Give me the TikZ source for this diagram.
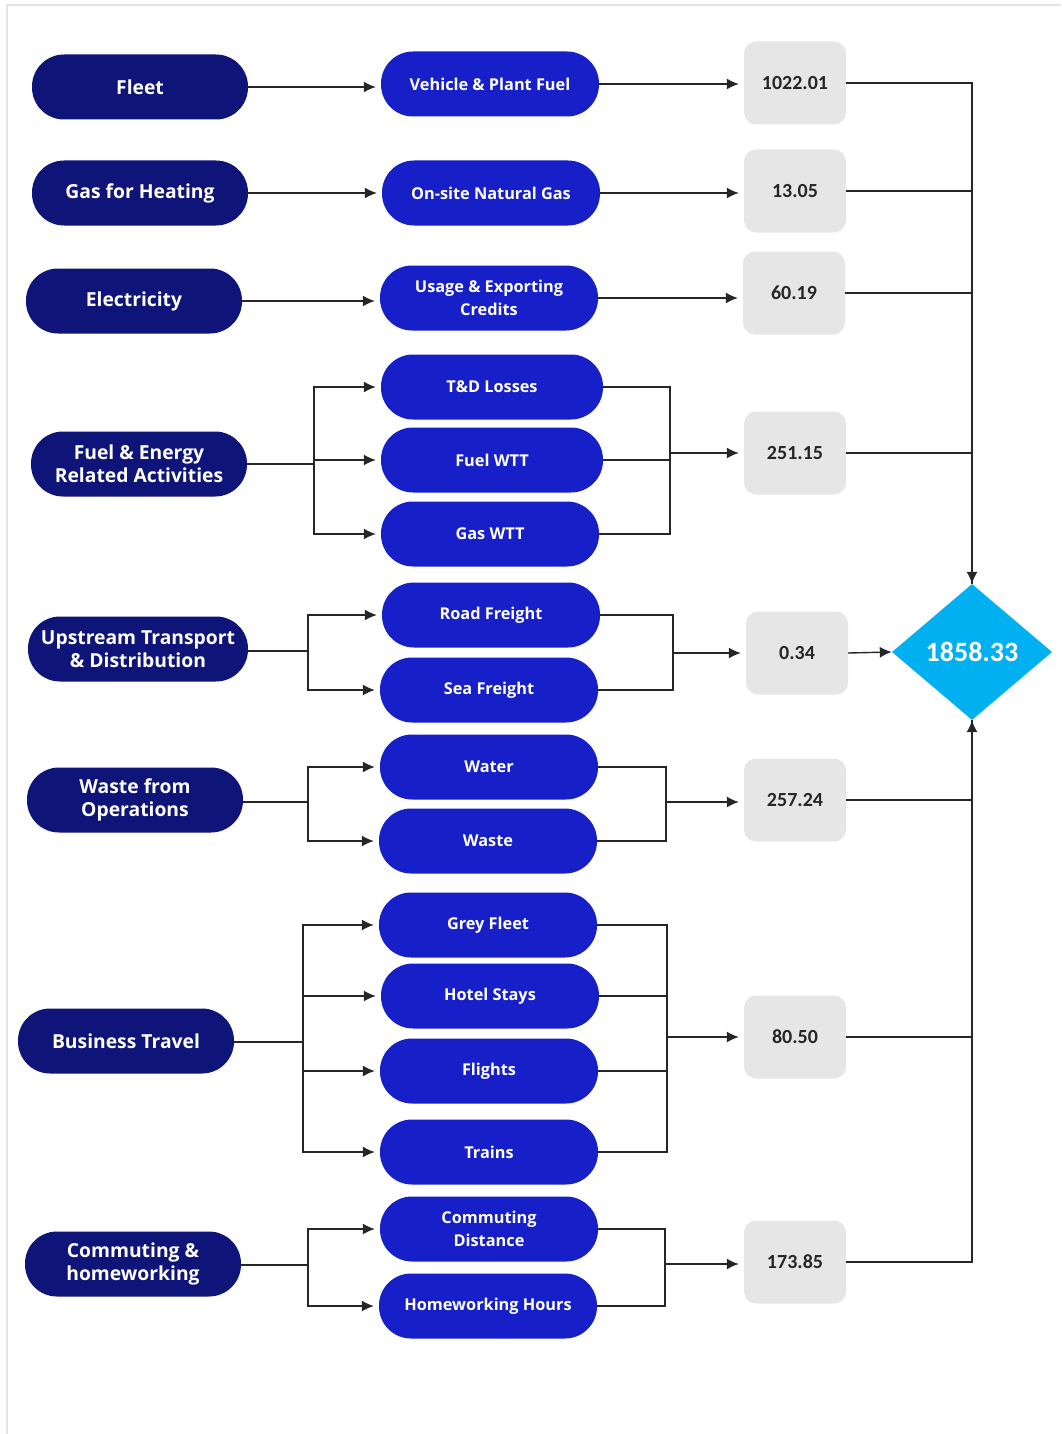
\documentclass[tikz,border=0pt]{standalone}
\usepackage{fontspec}
\setmainfont{Open Sans}
\newfontfamily\numfont{Carlito}
\usetikzlibrary{arrows.meta,shapes.geometric,positioning}
\definecolor{navy}{HTML}{0E1478}
\definecolor{midblue}{HTML}{1720C8}
\definecolor{valgray}{HTML}{E6E6E6}
\definecolor{skyblue}{HTML}{00B0F0}
\tikzset{
  cat/.style={fill=navy,text=white,rounded corners=32pt,minimum width=216pt,minimum height=65pt,inner sep=0pt,align=center,font=\bfseries\fontsize{19.3}{23}\selectfont},
  src/.style={fill=midblue,text=white,rounded corners=32pt,minimum width=218pt,minimum height=65pt,inner sep=0pt,align=center,font=\bfseries\fontsize{16.3}{23}\selectfont},
  val/.style={fill=valgray,rounded corners=12pt,minimum width=102pt,minimum height=83pt,inner sep=0pt,text=black!85,font=\numfont\bfseries\fontsize{20}{22}\selectfont},
  total/.style={diamond,fill=skyblue,text=white,minimum width=160pt,minimum height=136pt,aspect=1.18,inner sep=0pt,font=\numfont\bfseries\fontsize{28}{30}\selectfont},
  wire/.style={draw=black!85,line width=1.4pt},
  link/.style={wire,-{Latex[length=12pt,width=11pt]},shorten >=5pt},
  sum/.style={wire,-{Latex[length=12pt,width=11pt]}}
}
\begin{document}
\begin{tikzpicture}[x=1pt,y=-1pt]
  \useasboundingbox (0,0) rectangle (1061,1434);
  \draw [gray!22,line width=1.5pt] (7,1434) -- (7,5) -- (1061,5);

  % categories
  \node (fleet) [cat] at (140,87)   {Fleet};
  \node (heat)  [cat] at (140,193)  {Gas for Heating};
  \node (elec)  [cat] at (134,301)  {Electricity};
  \node (fera)  [cat] at (139,464)  {Fuel \& Energy\\Related Activities};
  \node (utd)   [cat,minimum width=220pt] at (138,649) {Upstream Transport\\\& Distribution};
  \node (wfo)   [cat] at (135,800)  {Waste from\\Operations};
  \node (bt)    [cat] at (126,1041) {Business Travel};
  \node (chw)   [cat] at (133,1264) {Commuting \&\\homeworking};

  % sources
  \node (vpf)   [src] at (490,84)   {Vehicle \& Plant Fuel};
  \node (ong)   [src] at (491,193)  {On-site Natural Gas};
  \node (uec)   [src] at (489,298)  {Usage \& Exporting\\Credits};
  \node (tdl)   [src,minimum width=222pt] at (492,387) {T\&D Losses};
  \node (fwtt)  [src,minimum width=222pt] at (492,460) {Fuel WTT};
  \node (gwtt)  [src] at (490,534)  {Gas WTT};
  \node (road)  [src] at (491,615)  {Road Freight};
  \node (sea)   [src] at (489,690)  {Sea Freight};
  \node (water) [src] at (489,767)  {Water};
  \node (waste) [src] at (488,841)  {Waste};
  \node (grey)  [src] at (488,925)  {Grey Fleet};
  \node (hotel) [src] at (490,996)  {Hotel Stays};
  \node (flight)[src] at (489,1071) {Flights};
  \node (train) [src] at (489,1152) {Trains};
  \node (cdist) [src] at (489,1229) {Commuting\\Distance};
  \node (hwh)   [src] at (488,1306) {Homeworking Hours};

  % values
  \node (v1) [val] at (795,83)   {1022.01};
  \node (v2) [val] at (795,191)  {13.05};
  \node (v3) [val] at (794,293)  {60.19};
  \node (v4) [val] at (795,453)  {251.15};
  \node (v5) [val] at (797,653)  {0.34};
  \node (v6) [val] at (795,800)  {257.24};
  \node (v7) [val] at (795,1037) {80.50};
  \node (v8) [val] at (795,1262) {173.85};

  \node (total) [total] at (972,652) {1858.33};

  % one to one
  \draw [link] (fleet.east) -- (fleet.east -| vpf.west);
  \draw [link] (heat.east)  -- (heat.east -| ong.west);
  \draw [link] (elec.east)  -- (elec.east -| uec.west);
  \draw [link] (vpf.east)   -- (vpf.east -| v1.west);
  \draw [link] (ong.east)   -- (ong.east -| v2.west);
  \draw [link] (uec.east)   -- (uec.east -| v3.west);

  % forks
  \coordinate (fera-f) at (314,464);
  \coordinate (utd-f)  at (308,651);
  \coordinate (wfo-f)  at (308,802);
  \coordinate (bt-f)   at (303,1042);
  \coordinate (chw-f)  at (308,1265);
  \draw [wire] (fera.east) -- (fera-f);
  \draw [wire] (utd.east |- utd-f) -- (utd-f);
  \draw [wire] (wfo.east |- wfo-f) -- (wfo-f);
  \draw [wire] (bt.east |- bt-f) -- (bt-f);
  \draw [wire] (chw.east |- chw-f) -- (chw-f);
  \foreach \a/\b in {fera-f/tdl,fera-f/fwtt,fera-f/gwtt,utd-f/road,utd-f/sea,
                     wfo-f/water,wfo-f/waste,bt-f/grey,bt-f/hotel,bt-f/flight,bt-f/train,
                     chw-f/cdist,chw-f/hwh}
    \draw [link] (\a) |- (\b.west);

  % merges
  \coordinate (fera-m) at (670,453);
  \coordinate (utd-m)  at (673,653);
  \coordinate (wfo-m)  at (666,802);
  \coordinate (bt-m)   at (667,1037);
  \coordinate (chw-m)  at (665,1264);
  \foreach \a/\b in {tdl/fera-m,fwtt/fera-m,gwtt/fera-m,road/utd-m,sea/utd-m,
                     water/wfo-m,waste/wfo-m,grey/bt-m,hotel/bt-m,flight/bt-m,train/bt-m,
                     cdist/chw-m,hwh/chw-m}
    \draw [wire] (\a.east) -| (\b);
  \foreach \a/\b in {fera-m/v4,utd-m/v5,wfo-m/v6,bt-m/v7,chw-m/v8}
    \draw [link] (\a) -- (\a -| \b.west);

  % totals
  \draw [wire] (v2.east) -| (total.north);
  \draw [wire] (v3.east) -| (total.north);
  \draw [wire] (v4.east) -| (total.north);
  \draw [sum]  (v1.east) -| (total.north);
  \draw [sum]  (v5.east) -- (total.west);
  \draw [wire] (v7.east) -| (total.south);
  \draw [wire] (v8.east) -| (total.south);
  \draw [sum]  (v6.east) -| (total.south);
\end{tikzpicture}
\end{document}
